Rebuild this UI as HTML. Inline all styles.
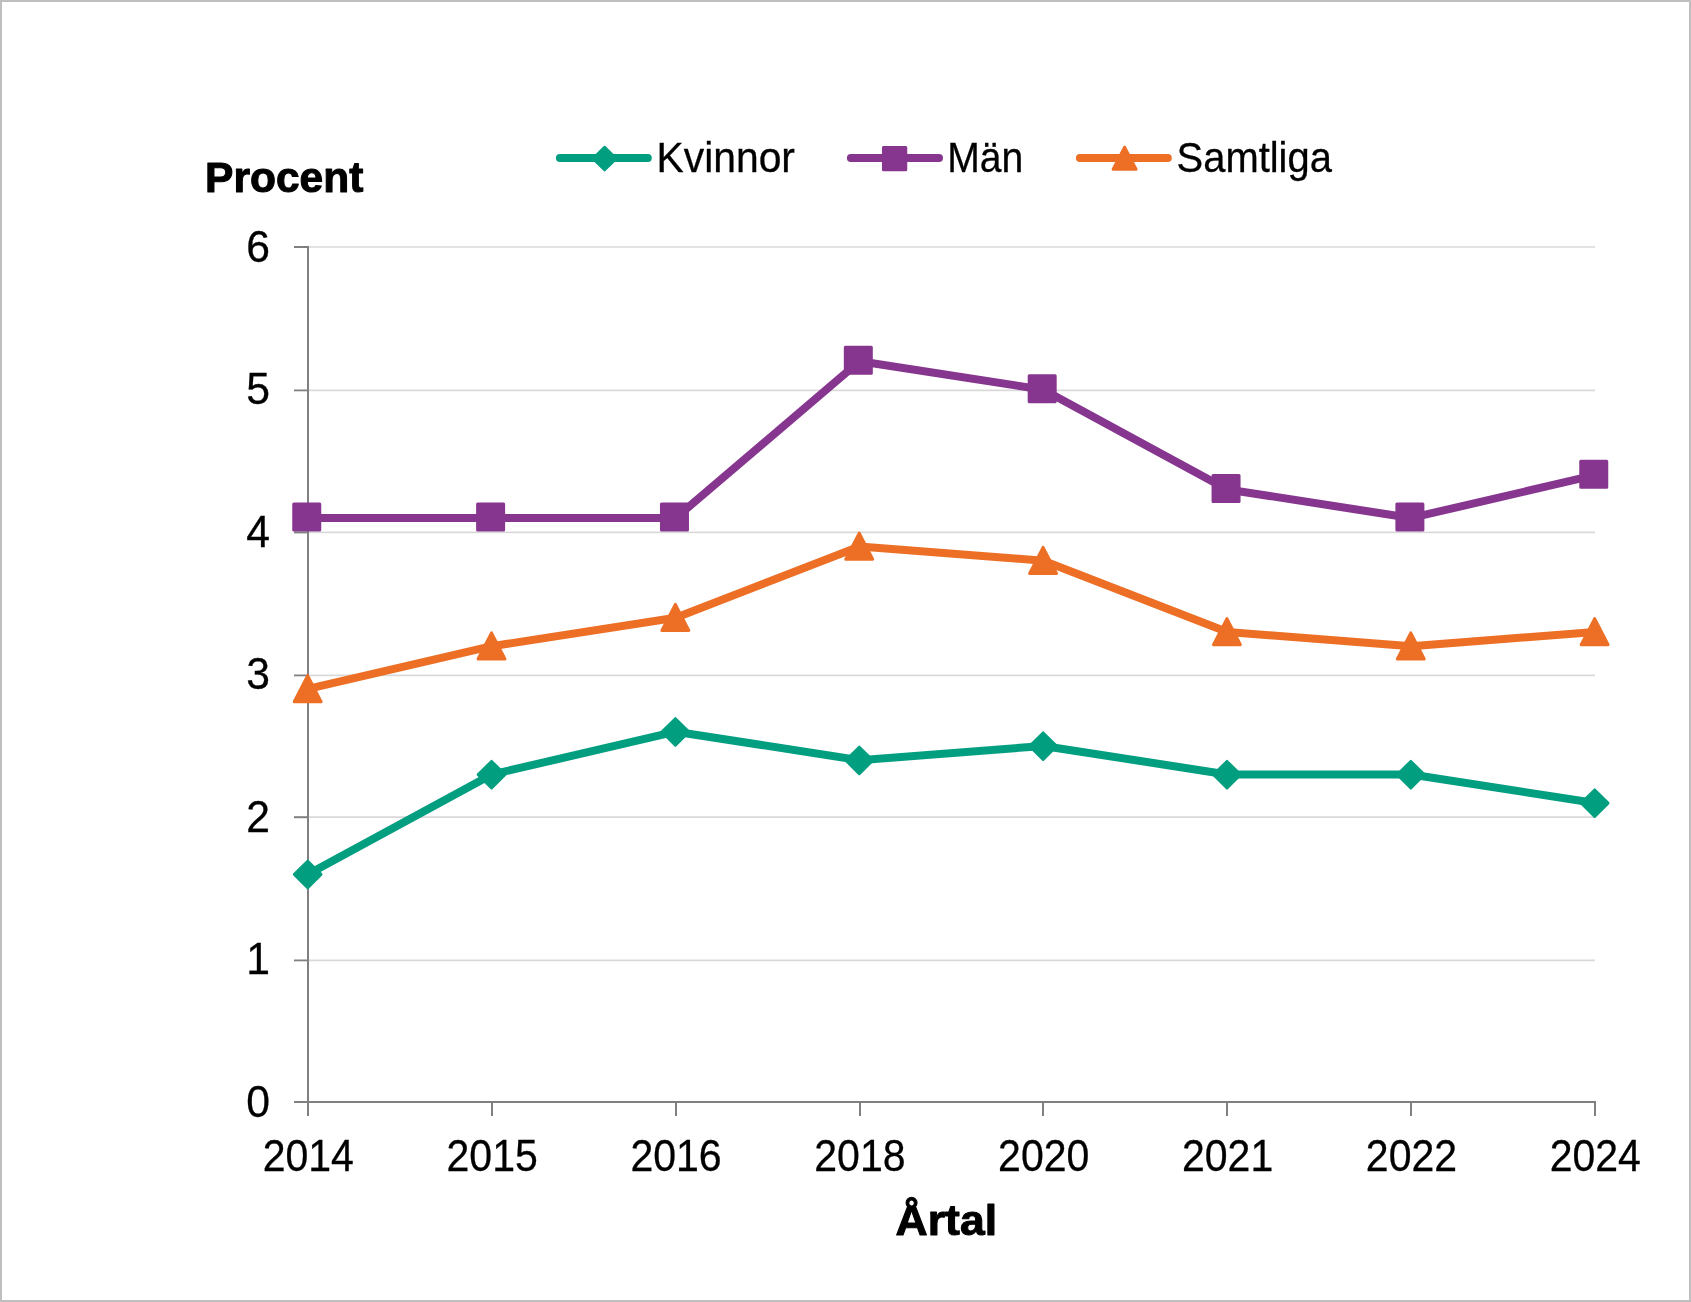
<!DOCTYPE html>
<html lang="sv"><head><meta charset="utf-8"><title>Procent per årtal</title>
<style>
html,body{margin:0;padding:0;background:#fff;}
body{width:1691px;height:1302px;overflow:hidden;font-family:"Liberation Sans",sans-serif;}
svg{display:block;will-change:transform;}
text{font-family:"Liberation Sans",sans-serif;fill:#000;}
</style></head><body>
<svg width="1691" height="1302" viewBox="0 0 1691 1302">
<rect x="0" y="0" width="1691" height="1302" fill="#fff"/>
<!-- outer frame -->
<rect x="1" y="1" width="1689" height="1300" fill="none" stroke="#bfbfbf" stroke-width="2"/>
<!-- horizontal gridlines -->
<g stroke="#d9d9d9" stroke-width="1.67">
<line x1="308.00" y1="960.40" x2="1595.00" y2="960.40"/>
<line x1="308.00" y1="817.20" x2="1595.00" y2="817.20"/>
<line x1="308.00" y1="675.40" x2="1595.00" y2="675.40"/>
<line x1="308.00" y1="532.40" x2="1595.00" y2="532.40"/>
<line x1="308.00" y1="390.40" x2="1595.00" y2="390.40"/>
<line x1="308.00" y1="247.00" x2="1595.00" y2="247.00"/>
</g>
<!-- axes and tick marks -->
<g stroke="#808080" stroke-width="2" fill="none">
<line x1="308.00" y1="246.00" x2="308.00" y2="1116.00"/>
<line x1="294.00" y1="1102.00" x2="1596.00" y2="1102.00"/>
<line x1="294.00" y1="960.40" x2="308.00" y2="960.40" stroke-width="1.8"/>
<line x1="294.00" y1="817.20" x2="308.00" y2="817.20" stroke-width="2"/>
<line x1="294.00" y1="675.40" x2="308.00" y2="675.40" stroke-width="1.8"/>
<line x1="294.00" y1="532.40" x2="308.00" y2="532.40" stroke-width="2"/>
<line x1="294.00" y1="390.40" x2="308.00" y2="390.40" stroke-width="1.8"/>
<line x1="294.00" y1="247.00" x2="308.00" y2="247.00" stroke-width="2"/>
<line x1="492.00" y1="1102.00" x2="492.00" y2="1116.00"/>
<line x1="676.00" y1="1102.00" x2="676.00" y2="1116.00"/>
<line x1="860.00" y1="1102.00" x2="860.00" y2="1116.00"/>
<line x1="1043.00" y1="1102.00" x2="1043.00" y2="1116.00"/>
<line x1="1227.00" y1="1102.00" x2="1227.00" y2="1116.00"/>
<line x1="1411.00" y1="1102.00" x2="1411.00" y2="1116.00"/>
<line x1="1595.00" y1="1102.00" x2="1595.00" y2="1116.00"/>
</g>
<!-- axis labels -->
<text transform="translate(269.90 1116.60) scale(0.9700 1)" font-size="44.00" text-anchor="end" stroke="#000" stroke-width="0.30" stroke-linejoin="round">0</text>
<text transform="translate(269.90 974.10) scale(0.9700 1)" font-size="44.00" text-anchor="end" stroke="#000" stroke-width="0.30" stroke-linejoin="round">1</text>
<text transform="translate(269.90 831.60) scale(0.9700 1)" font-size="44.00" text-anchor="end" stroke="#000" stroke-width="0.30" stroke-linejoin="round">2</text>
<text transform="translate(269.90 689.10) scale(0.9700 1)" font-size="44.00" text-anchor="end" stroke="#000" stroke-width="0.30" stroke-linejoin="round">3</text>
<text transform="translate(269.90 546.60) scale(0.9700 1)" font-size="44.00" text-anchor="end" stroke="#000" stroke-width="0.30" stroke-linejoin="round">4</text>
<text transform="translate(269.90 404.10) scale(0.9700 1)" font-size="44.00" text-anchor="end" stroke="#000" stroke-width="0.30" stroke-linejoin="round">5</text>
<text transform="translate(269.90 261.60) scale(0.9700 1)" font-size="44.00" text-anchor="end" stroke="#000" stroke-width="0.30" stroke-linejoin="round">6</text>
<text transform="translate(308.30 1171.20) scale(0.9220 1)" font-size="44.50" text-anchor="middle" stroke="#000" stroke-width="0.30" stroke-linejoin="round">2014</text>
<text transform="translate(492.16 1171.20) scale(0.9220 1)" font-size="44.50" text-anchor="middle" stroke="#000" stroke-width="0.30" stroke-linejoin="round">2015</text>
<text transform="translate(676.01 1171.20) scale(0.9220 1)" font-size="44.50" text-anchor="middle" stroke="#000" stroke-width="0.30" stroke-linejoin="round">2016</text>
<text transform="translate(859.87 1171.20) scale(0.9220 1)" font-size="44.50" text-anchor="middle" stroke="#000" stroke-width="0.30" stroke-linejoin="round">2018</text>
<text transform="translate(1043.73 1171.20) scale(0.9220 1)" font-size="44.50" text-anchor="middle" stroke="#000" stroke-width="0.30" stroke-linejoin="round">2020</text>
<text transform="translate(1227.59 1171.20) scale(0.9220 1)" font-size="44.50" text-anchor="middle" stroke="#000" stroke-width="0.30" stroke-linejoin="round">2021</text>
<text transform="translate(1411.44 1171.20) scale(0.9220 1)" font-size="44.50" text-anchor="middle" stroke="#000" stroke-width="0.30" stroke-linejoin="round">2022</text>
<text transform="translate(1595.30 1171.20) scale(0.9220 1)" font-size="44.50" text-anchor="middle" stroke="#000" stroke-width="0.30" stroke-linejoin="round">2024</text>
<!-- series: Kvinnor -->
<polyline points="308.00,874.20 491.86,774.45 675.71,731.70 859.57,760.20 1043.43,745.95 1227.29,774.45 1411.14,774.45 1595.00,802.95" fill="none" stroke="#029e80" stroke-width="8" stroke-linejoin="round" stroke-linecap="round"/>
<path d="M307.70 861.20 L321.00 874.40 L307.70 887.60 L294.40 874.40 Z" fill="#029e80" stroke="#029e80" stroke-width="3.0" stroke-linejoin="round"/>
<path d="M491.56 761.45 L504.86 774.65 L491.56 787.85 L478.26 774.65 Z" fill="#029e80" stroke="#029e80" stroke-width="3.0" stroke-linejoin="round"/>
<path d="M675.41 718.70 L688.71 731.90 L675.41 745.10 L662.11 731.90 Z" fill="#029e80" stroke="#029e80" stroke-width="3.0" stroke-linejoin="round"/>
<path d="M859.27 747.20 L872.57 760.40 L859.27 773.60 L845.97 760.40 Z" fill="#029e80" stroke="#029e80" stroke-width="3.0" stroke-linejoin="round"/>
<path d="M1043.13 732.95 L1056.43 746.15 L1043.13 759.35 L1029.83 746.15 Z" fill="#029e80" stroke="#029e80" stroke-width="3.0" stroke-linejoin="round"/>
<path d="M1226.99 761.45 L1240.29 774.65 L1226.99 787.85 L1213.69 774.65 Z" fill="#029e80" stroke="#029e80" stroke-width="3.0" stroke-linejoin="round"/>
<path d="M1410.84 761.45 L1424.14 774.65 L1410.84 787.85 L1397.54 774.65 Z" fill="#029e80" stroke="#029e80" stroke-width="3.0" stroke-linejoin="round"/>
<path d="M1594.70 789.95 L1608.00 803.15 L1594.70 816.35 L1581.40 803.15 Z" fill="#029e80" stroke="#029e80" stroke-width="3.0" stroke-linejoin="round"/>
<!-- series: Man -->
<polyline points="308.00,517.95 491.86,517.95 675.71,517.95 859.57,361.20 1043.43,389.70 1227.29,489.45 1411.14,517.95 1595.00,475.20" fill="none" stroke="#86368e" stroke-width="8" stroke-linejoin="round" stroke-linecap="round"/>
<rect x="293.75" y="504.00" width="26.00" height="26.00" fill="#86368e" stroke="#86368e" stroke-width="3.0" stroke-linejoin="round"/>
<rect x="477.61" y="504.00" width="26.00" height="26.00" fill="#86368e" stroke="#86368e" stroke-width="3.0" stroke-linejoin="round"/>
<rect x="661.46" y="504.00" width="26.00" height="26.00" fill="#86368e" stroke="#86368e" stroke-width="3.0" stroke-linejoin="round"/>
<rect x="845.32" y="347.25" width="26.00" height="26.00" fill="#86368e" stroke="#86368e" stroke-width="3.0" stroke-linejoin="round"/>
<rect x="1029.18" y="375.75" width="26.00" height="26.00" fill="#86368e" stroke="#86368e" stroke-width="3.0" stroke-linejoin="round"/>
<rect x="1213.04" y="475.50" width="26.00" height="26.00" fill="#86368e" stroke="#86368e" stroke-width="3.0" stroke-linejoin="round"/>
<rect x="1396.89" y="504.00" width="26.00" height="26.00" fill="#86368e" stroke="#86368e" stroke-width="3.0" stroke-linejoin="round"/>
<rect x="1580.75" y="461.25" width="26.00" height="26.00" fill="#86368e" stroke="#86368e" stroke-width="3.0" stroke-linejoin="round"/>
<!-- series: Samtliga -->
<polyline points="308.00,688.95 491.86,646.20 675.71,617.70 859.57,546.45 1043.43,560.70 1227.29,631.95 1411.14,646.20 1595.00,631.95" fill="none" stroke="#ed6f25" stroke-width="8" stroke-linejoin="round" stroke-linecap="round"/>
<path d="M307.65 675.65 L321.10 701.65 L294.20 701.65 Z" fill="#ed6f25" stroke="#ed6f25" stroke-width="3.0" stroke-linejoin="round"/>
<path d="M491.51 632.90 L504.96 658.90 L478.06 658.90 Z" fill="#ed6f25" stroke="#ed6f25" stroke-width="3.0" stroke-linejoin="round"/>
<path d="M675.36 604.40 L688.81 630.40 L661.91 630.40 Z" fill="#ed6f25" stroke="#ed6f25" stroke-width="3.0" stroke-linejoin="round"/>
<path d="M859.22 533.15 L872.67 559.15 L845.77 559.15 Z" fill="#ed6f25" stroke="#ed6f25" stroke-width="3.0" stroke-linejoin="round"/>
<path d="M1043.08 547.40 L1056.53 573.40 L1029.63 573.40 Z" fill="#ed6f25" stroke="#ed6f25" stroke-width="3.0" stroke-linejoin="round"/>
<path d="M1226.94 618.65 L1240.39 644.65 L1213.49 644.65 Z" fill="#ed6f25" stroke="#ed6f25" stroke-width="3.0" stroke-linejoin="round"/>
<path d="M1410.79 632.90 L1424.24 658.90 L1397.34 658.90 Z" fill="#ed6f25" stroke="#ed6f25" stroke-width="3.0" stroke-linejoin="round"/>
<path d="M1594.65 618.65 L1608.10 644.65 L1581.20 644.65 Z" fill="#ed6f25" stroke="#ed6f25" stroke-width="3.0" stroke-linejoin="round"/>
<!-- legend -->
<line x1="559.90" y1="157.9" x2="647.80" y2="157.9" stroke="#029e80" stroke-width="8" stroke-linecap="round"/>
<path d="M604.60 147.40 L616.00 158.60 L604.60 169.80 L593.20 158.60 Z" fill="#029e80" stroke="#029e80" stroke-width="3.0" stroke-linejoin="round"/>
<line x1="850.90" y1="157.9" x2="939.00" y2="157.9" stroke="#86368e" stroke-width="8" stroke-linecap="round"/>
<rect x="883.45" y="147.50" width="22.30" height="22.30" fill="#86368e" stroke="#86368e" stroke-width="3.0" stroke-linejoin="round"/>
<line x1="1079.90" y1="157.9" x2="1167.80" y2="157.9" stroke="#ed6f25" stroke-width="8" stroke-linecap="round"/>
<path d="M1124.60 147.20 L1136.05 169.30 L1113.15 169.30 Z" fill="#ed6f25" stroke="#ed6f25" stroke-width="3.0" stroke-linejoin="round"/>
<text transform="translate(656.50 172.20) scale(0.9430 1)" font-size="43.30" text-anchor="start" stroke="#000" stroke-width="0.30" stroke-linejoin="round">Kvinnor</text>
<text transform="translate(947.30 172.20) scale(0.9030 1)" font-size="43.30" text-anchor="start" stroke="#000" stroke-width="0.30" stroke-linejoin="round">Män</text>
<text transform="translate(1176.60 172.20) scale(0.9220 1)" font-size="43.30" text-anchor="start" stroke="#000" stroke-width="0.30" stroke-linejoin="round">Samtliga</text>
<!-- axis titles -->
<text transform="translate(205.10 191.60) scale(1.0220 1)" font-size="41.60" text-anchor="start" font-weight="bold" stroke="#000" stroke-width="1.00" stroke-linejoin="round">Procent</text>
<text transform="translate(946.30 1234.50) scale(1.0650 1)" font-size="41.80" text-anchor="middle" font-weight="bold" stroke="#000" stroke-width="1.00" stroke-linejoin="round">Årtal</text>
</svg></body></html>
